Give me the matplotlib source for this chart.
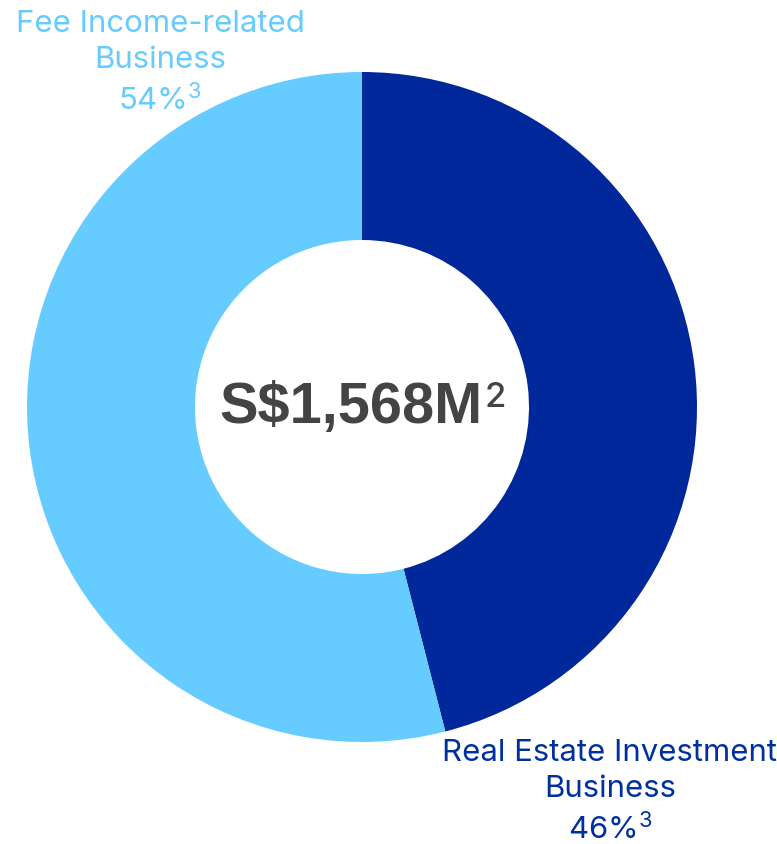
import matplotlib

matplotlib.use("Agg")
import matplotlib.pyplot as plt

plt.rcParams["mathtext.fontset"] = "custom"
plt.rcParams["mathtext.rm"] = "Inter"
plt.rcParams["mathtext.default"] = "rm"

# segment shares (%), clockwise from 12 o'clock
segments = ["Real Estate Investment\nBusiness", "Fee Income-related\nBusiness"]
shares = [46, 54]
colors = ["#00289a", "#66ccff"]
total_label = "S$1,568M"
total_note = "2"

W, H = 777, 845
fig = plt.figure(figsize=(W / 100, H / 100), dpi=100)
ax = fig.add_axes([0, 0, 1, 1])

cx, cy, r = 362, H - 408, 335
ax.pie(shares, colors=colors, startangle=90, counterclock=False,
       center=(cx, cy), radius=r, frame=True,
       wedgeprops=dict(width=r - 167, linewidth=0))

ax.set_xlim(0, W)
ax.set_ylim(0, H)
ax.set_aspect("equal")
ax.axis("off")

# centre total, footnote marker placed right after the main text
main = ax.text(cx - 11, cy, total_label.replace("$", "\\$"), ha="center",
               va="center", fontsize=41.5, fontweight="bold", color="#444444",
               family="Liberation Sans")
fig.canvas.draw()
bb = main.get_window_extent()
ax.text(bb.x1 + 2, bb.y1 - 1, total_note, ha="left", va="top", fontsize=25,
        color="#444444", family="Inter", fontweight="medium")

lbl = dict(ha="center", va="center", fontsize=22.4, family=["Inter", "DejaVu Sans"],
           linespacing=1.36)
ax.text(160, H - 63, f"{segments[1]}\n{shares[1]}%$^{{3}}$", color=colors[1], **lbl)
ax.text(610, H - 792, f"{segments[0]}\n{shares[0]}%$^{{3}}$", color="#0030a0", **lbl)

fig.savefig("out.png", dpi=100)
